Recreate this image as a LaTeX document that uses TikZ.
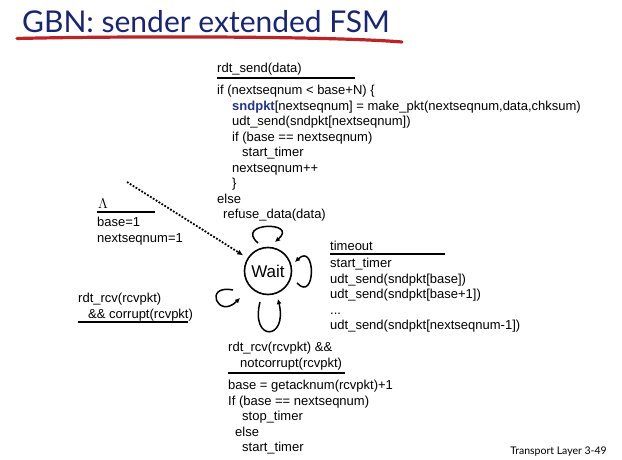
\documentclass[tikz,border=0pt]{standalone}
\usepackage{fontspec}
\setmainfont{Liberation Sans}
\newfontfamily\titlefont{Lato}
\usetikzlibrary{arrows.meta}

\definecolor{titleblue}{RGB}{24,36,118}
\definecolor{swooshred}{RGB}{188,36,40}
\definecolor{pktblue}{RGB}{32,52,150}

\def \ruleWidth {1.6pt}

\tikzset{
  code/.style={anchor=north west, inner sep=0pt, align=left, font=\fontsize{13}{15.5}\selectfont},
  rule/.style={line width=\ruleWidth},
  selfloop/.style={line width=1.5pt, -{Latex[length=5pt,width=5pt]}},
}

\begin{document}
\begin{tikzpicture}[x=1pt,y=1pt]
   \useasboundingbox (0,0) rectangle (622,459);
   \fill[white] (0,0) rectangle (622,459);

   \node[anchor=base west, inner sep=0pt, text=titleblue, font=\titlefont\fontsize{30}{30}\selectfont] (title) at (22,426) {GBN: sender extended FSM};
   \draw[swooshred, line width=3.2pt, line cap=round] (17,420.5) .. controls (120,423) and (330,423) .. (402,417);

   \node[circle, draw, line width=1.6pt, minimum size=47pt, inner sep=0pt, font=\fontsize{17}{17}\selectfont] (wait) at (268,188) {Wait};

   \draw[selfloop] ([shift={(-10,28)}]wait.center) .. controls +(-24,21) and +(24,21) .. ([shift={(7,29)}]wait.center);
   \draw[selfloop] ([shift={(29,-12)}]wait.center) .. controls +(19,-20) and +(21,20) .. ([shift={(27,9)}]wait.center);
   \draw[selfloop] ([shift={(-35,-19)}]wait.center) .. controls +(-30,6) and +(-22,-22) .. ([shift={(-28,-27)}]wait.center);
   \draw[selfloop] ([shift={(-8,-31)}]wait.center) .. controls +(-10,-40) and +(10,-42) .. ([shift={(10,-28)}]wait.center);

   \coordinate (init) at (127,277);
   \draw[line width=1.8pt, dash pattern=on 1.8pt off 1.6pt, -{Latex[length=6pt,width=5.5pt]}, shorten >=5pt] (init) -- (wait);

   \node[code] (sendev) at (217,396) {rdt\_send(data)};
   \draw[rule] (217,381) -- (355,381);
   \node[code] (sendact) at (217,374) {if (nextseqnum < base+N) \{\\
      \hspace*{15pt}{\color{pktblue}\bfseries sndpkt}[nextseqnum] = make\_pkt(nextseqnum,data,chksum)\\
      \hspace*{15pt}udt\_send(sndpkt[nextseqnum])\\
      \hspace*{15pt}if (base == nextseqnum)\\
      \hspace*{25pt}start\_timer\\
      \hspace*{15pt}nextseqnum++\\
      \hspace*{15pt}\}\\
      else\\
      \hspace*{6pt}refuse\_data(data)};

   \node[anchor=base west, inner sep=0pt, font=\fontsize{13.5}{13.5}\selectfont] (initev) at (98,251) {$\Lambda$};
   \draw[rule] (97,247) -- (155,247);
   \node[code] (initact) at (97,242) {base=1\\nextseqnum=1};

   \node[code] (corruptev) at (78,166) {rdt\_rcv(rcvpkt)\\\hspace*{10pt}\&\& corrupt(rcvpkt)};
   \draw[rule] (78,137) -- (188,137);

   \node[code] (timeoutev) at (330,218) {timeout};
   \draw[rule] (330,205) -- (445,205);
   \node[code] (timeoutact) at (330,201) {start\_timer\\udt\_send(sndpkt[base])\\udt\_send(sndpkt[base+1])\\...\\udt\_send(sndpkt[nextseqnum-1])};

   \node[code] (ackev) at (228,117) {rdt\_rcv(rcvpkt) \&\&\\\hspace*{12pt}notcorrupt(rcvpkt)};
   \draw[rule] (228,86) -- (345,86);
   \node[code] (ackact) at (228,79) {base = getacknum(rcvpkt)+1\\If (base == nextseqnum)\\\hspace*{14pt}stop\_timer\\\hspace*{7pt}else\\\hspace*{14pt}start\_timer};

   \node[anchor=base east, inner sep=0pt, font=\titlefont\fontsize{10.5}{10.5}\selectfont] (footer) at (607,5) {Transport Layer 3-49};
\end{tikzpicture}
\end{document}
